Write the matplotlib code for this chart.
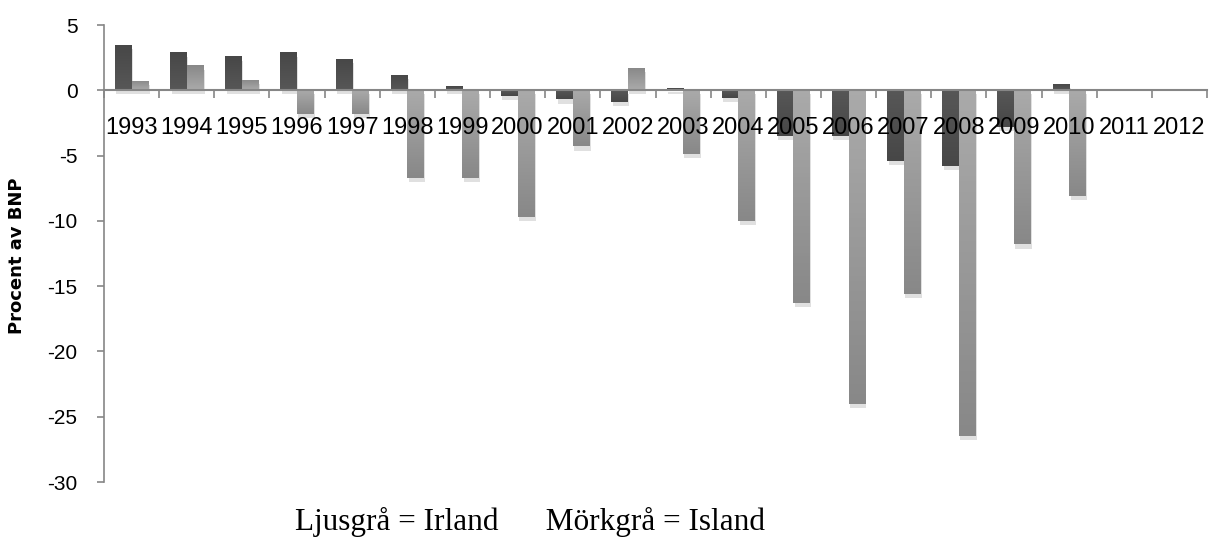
import numpy as np
import matplotlib
matplotlib.use("Agg")
import matplotlib.pyplot as plt
import matplotlib.patheffects as pe
from matplotlib.colors import LinearSegmentedColormap

# Data (procent av BNP)
years = [str(y) for y in range(1993, 2013)]
island = [3.5, 2.9, 2.6, 2.9, 2.4, 1.2, 0.3, -0.4, -0.7, -0.9,
          0.15, -0.6, -3.5, -3.5, -5.4, -5.8, -2.8, 0.5, np.nan, np.nan]   # mörkgrå
irland = [0.7, 1.9, 0.8, -1.8, -1.8, -6.7, -6.7, -9.7, -4.3, 1.7,
          -4.9, -10.0, -16.3, -24.0, -15.6, -26.5, -11.8, -8.1, np.nan, np.nan]  # ljusgrå
yticks = [5, 0, -5, -10, -15, -20, -25, -30]

AXIS_GREY = "#868686"
BAR_W = 0.3

fig = plt.figure(figsize=(12.16, 5.37), dpi=100)
ax = fig.add_axes([104 / 1216, 55 / 537, 1103 / 1216, 457 / 537])
ax.set_axisbelow(False)  # year labels sit on top of the bars

x = np.arange(len(years))
shadow = [pe.SimplePatchShadow(offset=(1, -3), shadow_rgbFace="#9a9a9a", alpha=0.3), pe.Normal()]

dark_bars = ax.bar(x - BAR_W / 2, island, BAR_W, color="#505050", linewidth=0, zorder=2)
light_bars = ax.bar(x + BAR_W / 2, irland, BAR_W, color="#a6a6a6", linewidth=0, zorder=2)


def shade(bars, c_near, c_far):
    # gradient along the bar, light at the axis and darker at the far end
    cmap = LinearSegmentedColormap.from_list("g", [c_near, c_far])
    for r in bars:
        h = r.get_height()
        if np.isnan(h) or h == 0:
            continue
        r.set_path_effects(shadow)
        x0 = r.get_x()
        grad = np.linspace(0, 1, 64).reshape(-1, 1)
        if h < 0:
            ext = (x0, x0 + r.get_width(), h, 0)
            img = grad[::-1]
        else:
            ext = (x0, x0 + r.get_width(), 0, h)
            img = grad
        im = ax.imshow(img, cmap=cmap, extent=ext, origin="lower", aspect="auto", zorder=2.1)
        im.set_clip_path(r)


shade(dark_bars, "#575757", "#474747")
shade(light_bars, "#aaaaaa", "#888888")

ax.set_xlim(-0.5, len(years) - 0.5)
ax.set_ylim(-30, 5)

# axes styling
for s in ["top", "right"]:
    ax.spines[s].set_visible(False)
ax.spines["bottom"].set_position(("data", 0))
ax.spines["bottom"].set_color(AXIS_GREY)
ax.spines["left"].set_color(AXIS_GREY)
ax.spines["bottom"].set_linewidth(1.5)
ax.spines["left"].set_linewidth(1.2)

ax.set_yticks(yticks)
ax.set_yticklabels([str(v) for v in yticks], fontsize=15, family="Liberation Sans")
ax.tick_params(axis="y", length=5, width=1.2, color=AXIS_GREY, pad=14)

ax.set_xticks(np.arange(-0.5, len(years)), minor=False)
ax.set_xticklabels([])
ax.set_xticks(x, minor=True)
ax.set_xticklabels(years, minor=True, fontsize=17, family="Liberation Sans")
ax.tick_params(axis="x", which="major", direction="out", length=5.5, width=1.2, color=AXIS_GREY)
ax.tick_params(axis="x", which="minor", length=0, pad=19)

fig.text(17.5 / 1216, 1 - 256 / 537, "Procent av BNP", rotation=90, ha="center", va="center",
         fontsize=13, fontweight="bold", family="DejaVu Sans")

fig.text(530 / 1216, 1 - 530 / 537, "Ljusgrå = Irland      Mörkgrå = Island",
         ha="center", va="baseline", fontsize=22.5, family="Liberation Serif")

fig.savefig("out.png", dpi=100)
